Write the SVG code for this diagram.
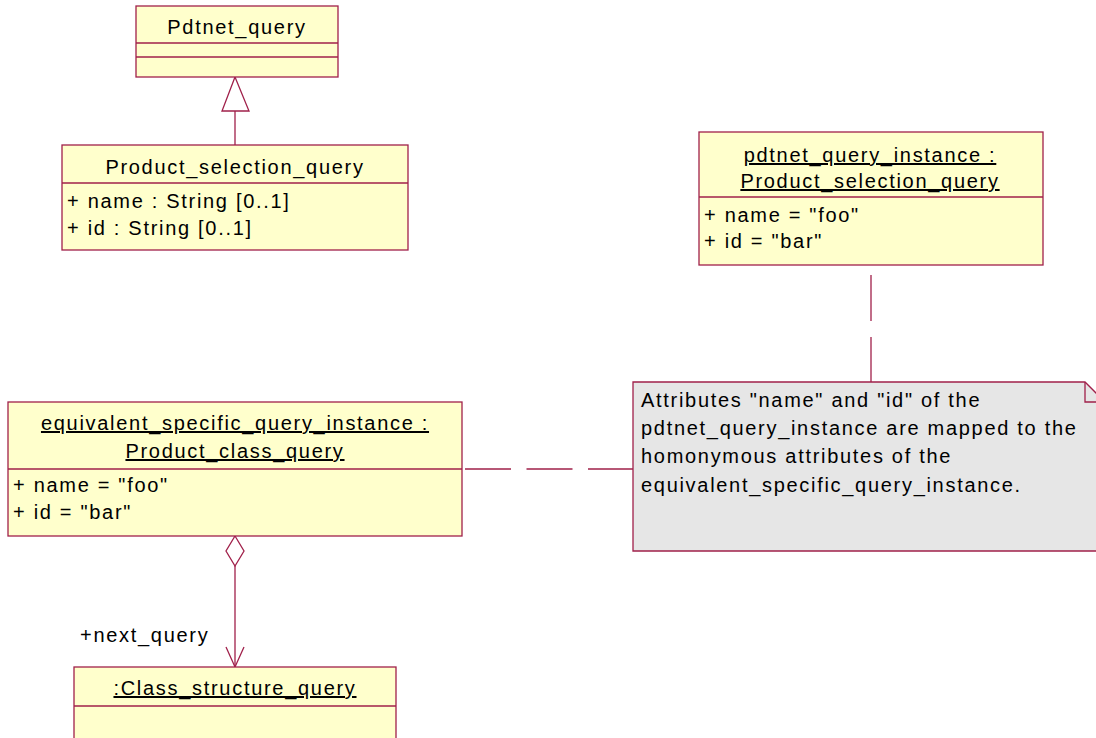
<svg xmlns="http://www.w3.org/2000/svg" width="1096" height="738" viewBox="0 0 1096 738">
<style>
.box{fill:#FFFFCC;stroke:#A0204A;stroke-width:1.3}
.ln{stroke:#A0204A;stroke-width:1.3;fill:none}
.note{fill:#E6E6E6;stroke:#A0204A;stroke-width:1.3}
text{font-family:"Liberation Sans",Arial,sans-serif;font-size:20px;letter-spacing:1.7px;fill:#000}
.c{text-anchor:middle}
.u{text-decoration:underline}
</style>
<rect width="1096" height="738" fill="#fff"/>
<g id="connectors">
<line class="ln" x1="235" y1="111" x2="235" y2="145"/>
<polygon class="ln" points="235,77 222,111 249,111" fill="#fff"/>
<polygon class="ln" points="235,536 244,551 235,566 226,551" fill="#fff"/>
<line class="ln" x1="235" y1="566" x2="235" y2="667"/>
<polyline class="ln" points="226,647 235,667 244,647"/>
<line class="ln" x1="465" y1="469" x2="634" y2="469" stroke-dasharray="46,15.5"/>
<line class="ln" x1="871" y1="275" x2="871" y2="382" stroke-dasharray="46,16"/>
<text x="80" y="642">+next_query</text>
</g>
<g id="pdtnet_query">
<rect class="box" x="136" y="6" width="202" height="71"/>
<line class="ln" x1="136" y1="43" x2="338" y2="43"/>
<line class="ln" x1="136" y1="57" x2="338" y2="57"/>
<text class="c" x="237" y="34">Pdtnet_query</text>
</g>
<g id="product_selection_query">
<rect class="box" x="62" y="145" width="346" height="105"/>
<line class="ln" x1="62" y1="183" x2="408" y2="183"/>
<text class="c" x="235" y="174">Product_selection_query</text>
<text x="67" y="208">+ name : String [0..1]</text>
<text x="67" y="235">+ id : String [0..1]</text>
</g>
<g id="pdtnet_query_instance">
<rect class="box" x="699" y="132" width="344" height="133"/>
<line class="ln" x1="699" y1="197" x2="1043" y2="197"/>
<text class="c u" x="870" y="162">pdtnet_query_instance : </text>
<text class="c u" x="870" y="188">Product_selection_query</text>
<text x="704" y="222">+ name = "foo"</text>
<text x="704" y="248">+ id = "bar"</text>
</g>
<g id="equivalent_specific_query_instance">
<rect class="box" x="8" y="402" width="454" height="134"/>
<line class="ln" x1="8" y1="469" x2="462" y2="469"/>
<text class="c u" x="235" y="430">equivalent_specific_query_instance : </text>
<text class="c u" x="235" y="458">Product_class_query</text>
<text x="13" y="492">+ name = "foo"</text>
<text x="13" y="519">+ id = "bar"</text>
</g>
<g id="class_structure_query">
<rect class="box" x="74" y="667" width="322" height="80"/>
<line class="ln" x1="74" y1="706" x2="396" y2="706"/>
<text class="c u" x="235" y="695">:Class_structure_query</text>
</g>
<g id="note">
<polygon class="note" points="633,382 1085,382 1104,401 1104,551 633,551"/>
<polyline class="ln" points="1085,382 1085,402 1104,402"/>
<text x="641" y="407">Attributes "name" and "id" of the</text>
<text x="641" y="435">pdtnet_query_instance are mapped to the</text>
<text x="641" y="463">homonymous attributes of the</text>
<text x="641" y="492">equivalent_specific_query_instance.</text>
</g>
</svg>
